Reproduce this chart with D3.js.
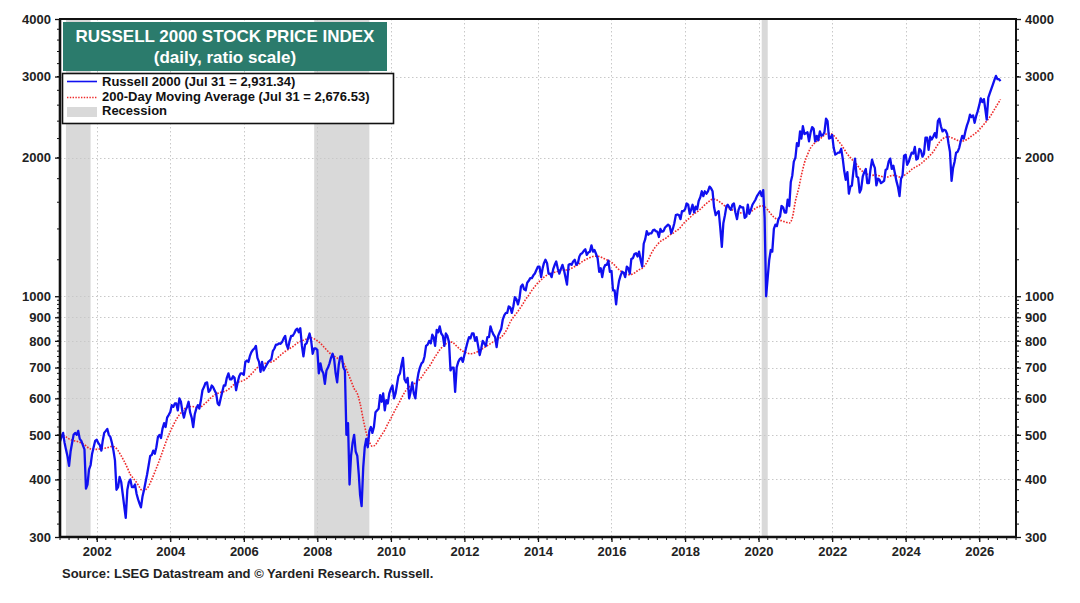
<!DOCTYPE html>
<html>
<head>
<meta charset="utf-8">
<script src="https://cdn.jsdelivr.net/npm/d3@7"></script>
<style>
  body { margin: 0; background: #fff; }
  svg { font-family: "Liberation Sans", Arial, sans-serif; font-weight: bold; }
</style>
</head>
<body>
<svg id="chart" width="1080" height="603"></svg>
<script>
const r2kStart = '2001-01-01';
const r2k = [
  484, 495, 505, 480, 465, 450, 428, 460, 480, 500, 505, 500, 510, 490, 485, 475, 465, 382, 390, 420, 430, 455, 470, 485, // 2001
  488, 480, 475, 462, 485, 505, 510, 515, 500, 495, 480, 462, 440, 380, 385, 405, 395, 372, 350, 330, 380, 395, 400, 385, // 2002
  385, 390, 372, 362, 355, 348, 368, 380, 395, 410, 430, 450, 452, 462, 455, 470, 495, 500, 492, 515, 530, 520, 545, 552, // 2003
  560, 580, 575, 585, 585, 565, 600, 590, 562, 545, 565, 575, 590, 560, 545, 520, 555, 570, 580, 570, 595, 625, 635, 648, // 2004
  650, 620, 625, 640, 635, 625, 615, 585, 580, 600, 620, 640, 640, 665, 680, 660, 660, 670, 665, 625, 650, 670, 680, 680, // 2005
  675, 720, 725, 720, 740, 755, 765, 770, 780, 735, 720, 685, 720, 690, 700, 710, 720, 725, 730, 760, 770, 785, 785, 790, // 2006
  788, 795, 810, 820, 785, 770, 800, 820, 820, 830, 845, 850, 835, 852, 780, 740, 785, 790, 810, 830, 800, 750, 770, 770, // 2007
  765, 680, 715, 690, 680, 645, 690, 700, 715, 735, 750, 730, 680, 650, 710, 740, 740, 700, 690, 500, 530, 390, 450, 480, // 2008
  500, 460, 450, 410, 370, 350, 425, 470, 490, 470, 510, 520, 505, 520, 560, 565, 570, 610, 590, 615, 565, 595, 585, 615, // 2009
  630, 640, 600, 615, 640, 670, 680, 710, 735, 660, 650, 665, 600, 620, 650, 615, 600, 650, 680, 700, 715, 720, 740, 780, // 2010
  785, 800, 790, 825, 815, 780, 845, 835, 860, 830, 820, 780, 830, 820, 795, 690, 700, 700, 620, 700, 720, 730, 735, 720, // 2011
  745, 770, 795, 815, 810, 830, 830, 800, 815, 780, 745, 770, 800, 790, 780, 815, 815, 860, 840, 825, 815, 775, 820, 835, // 2012
  850, 890, 910, 920, 920, 950, 945, 920, 950, 995, 985, 960, 990, 1050, 1060, 1035, 1030, 1070, 1080, 1095, 1095, 1110, 1120, 1140, // 2013
  1160, 1160, 1100, 1150, 1180, 1200, 1180, 1120, 1120, 1100, 1145, 1170, 1190, 1150, 1120, 1145, 1170, 1140, 1100, 1060, 1170, 1175, 1170, 1190, // 2014
  1200, 1170, 1180, 1220, 1235, 1240, 1255, 1265, 1230, 1245, 1250, 1290, 1250, 1260, 1235, 1210, 1130, 1150, 1100, 1150, 1170, 1170, 1195, 1130, // 2015
  1135, 1030, 1030, 960, 1030, 1080, 1110, 1130, 1125, 1100, 1160, 1150, 1120, 1205, 1210, 1235, 1240, 1220, 1250, 1200, 1160, 1300, 1330, 1385, // 2016
  1360, 1370, 1370, 1390, 1395, 1385, 1380, 1345, 1400, 1380, 1385, 1410, 1420, 1430, 1420, 1370, 1400, 1440, 1500, 1505, 1500, 1470, 1530, 1530, // 2017
  1545, 1590, 1580, 1510, 1540, 1580, 1520, 1565, 1545, 1610, 1640, 1690, 1650, 1690, 1670, 1690, 1730, 1715, 1690, 1560, 1500, 1520, 1530, 1410, // 2018
  1280, 1440, 1500, 1570, 1580, 1560, 1540, 1580, 1590, 1520, 1470, 1540, 1570, 1560, 1560, 1480, 1490, 1580, 1510, 1540, 1580, 1600, 1620, 1650, // 2019
  1670, 1690, 1650, 1700, 1480, 1000, 1100, 1200, 1260, 1250, 1400, 1430, 1420, 1470, 1490, 1570, 1560, 1520, 1520, 1620, 1570, 1770, 1830, 1960, // 2020
  2000, 2150, 2120, 2280, 2200, 2340, 2250, 2260, 2270, 2170, 2270, 2330, 2310, 2170, 2230, 2180, 2280, 2230, 2240, 2270, 2430, 2400, 2200, 2210, // 2021
  2240, 2100, 2030, 2040, 2050, 2050, 2090, 1990, 1870, 1790, 1860, 1670, 1730, 1740, 1880, 1990, 1820, 1810, 1680, 1710, 1820, 1860, 1890, 1760, // 2022
  1760, 1880, 1980, 1930, 1900, 1740, 1800, 1790, 1760, 1770, 1780, 1880, 1890, 1960, 1990, 1890, 1920, 1850, 1780, 1730, 1650, 1800, 1830, 2020, // 2023
  2030, 1930, 1960, 2010, 2050, 2040, 2110, 1980, 1990, 2090, 2070, 2010, 2040, 2210, 2210, 2080, 2220, 2190, 2220, 2260, 2210, 2400, 2430, 2340, // 2024
  2280, 2300, 2290, 2250, 2150, 2060, 1780, 1900, 1960, 2050, 2060, 2100, 2170, 2230, 2200, 2280, 2350, 2400, 2480, 2450, 2470, 2380, 2460, 2520, // 2025
  2600, 2690, 2640, 2680, 2560, 2420, 2700, 2760, 2820, 2880, 2950, 3010, 2960, 2960                                                            // 2026
];

// 200-day moving average, one reading per month, from Jan 2001
const maStart = '2001-01-01';
const ma200 = [
  500, 498, 495, 490, 487, 485, 483, 480, 476, 470, 466, 465,        // 2001
  465, 466, 467, 468, 470, 472, 470, 462, 450, 438, 424, 410,        // 2002
  402, 394, 385, 378, 380, 387, 400, 415, 432, 450, 470, 490,        // 2003
  508, 525, 540, 553, 563, 572, 575, 576, 575, 572, 575, 582,        // 2004
  590, 600, 607, 613, 617, 620, 622, 628, 636, 645, 650, 653,        // 2005
  657, 663, 672, 683, 695, 705, 710, 715, 718, 720, 725, 735,        // 2006
  745, 755, 762, 770, 777, 787, 795, 800, 805, 810, 812, 808,        // 2007
  800, 790, 778, 765, 753, 745, 738, 730, 722, 708, 680, 655,        // 2008
  630, 615, 585, 540, 505, 482, 472, 476, 488, 500, 512, 528,        // 2009
  543, 560, 575, 592, 610, 625, 635, 643, 648, 655, 667, 682,        // 2010
  697, 712, 730, 748, 765, 778, 788, 795, 795, 785, 773, 763,        // 2011
  757, 752, 750, 752, 756, 762, 770, 778, 785, 793, 800, 808,        // 2012
  815, 830, 850, 880, 900, 918, 938, 960, 985, 1005, 1030, 1050,     // 2013
  1070, 1085, 1100, 1112, 1120, 1125, 1130, 1135, 1140, 1140, 1142, 1150, // 2014
  1160, 1170, 1182, 1195, 1205, 1213, 1220, 1222, 1220, 1212, 1203, 1195, // 2015
  1185, 1168, 1150, 1135, 1122, 1115, 1113, 1118, 1130, 1142, 1150, 1170, // 2016
  1200, 1240, 1270, 1295, 1315, 1328, 1340, 1358, 1370, 1385, 1400, 1425, // 2017
  1450, 1470, 1490, 1510, 1525, 1545, 1568, 1590, 1610, 1625, 1622, 1608, // 2018
  1590, 1570, 1555, 1545, 1535, 1525, 1518, 1515, 1515, 1520, 1535, 1552, // 2019
  1565, 1572, 1565, 1540, 1510, 1485, 1470, 1462, 1455, 1448, 1442, 1480, // 2020
  1610, 1710, 1830, 1950, 2030, 2100, 2140, 2170, 2195, 2225, 2250, 2258, // 2021
  2245, 2215, 2175, 2135, 2085, 2035, 2000, 1965, 1935, 1895, 1865, 1848, // 2022
  1835, 1830, 1835, 1830, 1822, 1815, 1815, 1825, 1830, 1825, 1815, 1818, // 2023
  1840, 1860, 1885, 1905, 1920, 1940, 1965, 1995, 2025, 2060, 2110, 2160, // 2024
  2195, 2215, 2220, 2210, 2195, 2180, 2170, 2175, 2190, 2215, 2240, 2265, // 2025
  2300, 2340, 2380, 2425, 2480, 2545, 2610                                // 2026
];

// last readings (legend values)
const lastDate = '2026-07-31';
const lastR2k = 2931.34;
const lastMA = 2676.53;

const recessions = [
  ['2001-03-01', '2001-11-01'],
  ['2007-12-01', '2009-06-01'],
  ['2020-02-01', '2020-04-01']
];

const yTickValues = [300, 400, 500, 600, 700, 800, 900, 1000, 2000, 3000, 4000];
const yGridValues = [400, 500, 600, 700, 800, 900, 1000, 2000, 3000];
const xLabelYears = [2002, 2004, 2006, 2008, 2010, 2012, 2014, 2016, 2018, 2020, 2022, 2024, 2026];

const titleLines = ['RUSSELL 2000 STOCK PRICE INDEX', '(daily, ratio scale)'];
const sourceText = 'Source: LSEG Datastream and \u00A9 Yardeni Research. Russell.';

// ---------------------------------------------------------------
const fmtComma = d3.format(',.2f');
const parse = d3.utcParse('%Y-%m-%d');

const margin = {left: 60, right: 1016, top: 19, bottom: 537};

const svg = d3.select('#chart');

const x = d3.scaleUtc()
    .domain([parse('2001-01-01'), parse('2027-01-01')])
    .range([margin.left, margin.right]);

const y = d3.scaleLog()
    .domain([300, 4000])
    .range([margin.bottom, margin.top]);

// build dated points
const r2kData = r2k.map((v, i) => {
  const d = d3.utcMonth.offset(parse(r2kStart), Math.floor(i / 2));
  return {date: i % 2 ? d3.utcDay.offset(d, 15) : d, value: v};
});
r2kData.push({date: parse(lastDate), value: lastR2k});

const maData = ma200.map((v, i) => ({date: d3.utcMonth.offset(parse(maStart), i), value: v}));
maData.push({date: parse(lastDate), value: lastMA});

// recession bands
svg.append('g')
    .selectAll('rect')
    .data(recessions)
    .join('rect')
    .attr('x', (d) => x(parse(d[0])))
    .attr('width', (d) => x(parse(d[1])) - x(parse(d[0])))
    .attr('y', margin.top)
    .attr('height', margin.bottom - margin.top)
    .attr('fill', '#d9d9d9');

// grid
const grid = svg.append('g').attr('stroke', '#c8c8c8').attr('stroke-width', 1).attr('stroke-dasharray', '1.5,2.5');
grid.selectAll('line.h')
    .data(yGridValues)
    .join('line')
    .attr('class', 'h')
    .attr('x1', margin.left).attr('x2', margin.right)
    .attr('y1', (d) => Math.round(y(d)) + 0.5).attr('y2', (d) => Math.round(y(d)) + 0.5);
grid.selectAll('line.v')
    .data(xLabelYears)
    .join('line')
    .attr('class', 'v')
    .attr('x1', (d) => Math.round(x(Date.UTC(d, 0, 1))) + 0.5)
    .attr('x2', (d) => Math.round(x(Date.UTC(d, 0, 1))) + 0.5)
    .attr('y1', margin.top).attr('y2', margin.bottom);

// moving average (dotted red)
svg.append('path')
    .datum(maData)
    .attr('fill', 'none')
    .attr('stroke', '#ee2b2b')
    .attr('stroke-width', 1.6)
    .attr('stroke-dasharray', '1.6,1.4')
    .attr('d', d3.line().x((d) => x(d.date)).y((d) => y(d.value)).curve(d3.curveMonotoneX));

// index line
svg.append('path')
    .datum(r2kData)
    .attr('fill', 'none')
    .attr('stroke', '#1010f0')
    .attr('stroke-width', 2.3)
    .attr('stroke-linejoin', 'round')
    .attr('d', d3.line().x((d) => x(d.date)).y((d) => y(d.value)));

// axes
const yFmt = d3.format('d');
const minorY = d3.range(320, 1000, 20).concat(d3.range(1200, 4000, 200));

const leftAxis = svg.append('g')
    .attr('transform', `translate(${margin.left},0)`)
    .call(d3.axisLeft(y).tickValues(yTickValues).tickFormat(yFmt).tickSize(5).tickPadding(4));
const rightAxis = svg.append('g')
    .attr('transform', `translate(${margin.right},0)`)
    .call(d3.axisRight(y).tickValues(yTickValues).tickFormat(yFmt).tickSize(5).tickPadding(4));
const bottomAxis = svg.append('g')
    .attr('transform', `translate(0,${margin.bottom})`)
    .call(d3.axisBottom(x)
        .tickValues(xLabelYears.map((yr) => new Date(Date.UTC(yr, 0, 1))))
        .tickFormat(d3.utcFormat('%Y'))
        .tickSize(5).tickPadding(5));

[leftAxis, rightAxis, bottomAxis].forEach((g) => {
  g.select('.domain').remove();
  g.selectAll('.tick line').attr('stroke', '#111').attr('stroke-width', 1.3);
  g.selectAll('.tick text')
      .attr('fill', '#222')
      .style('font-size', '13px')
      .style('font-weight', 'bold')
      .style('font-family', '"Liberation Sans", Arial, sans-serif');
});

// minor ticks
const minor = svg.append('g').attr('stroke', '#111').attr('stroke-width', 1);
minor.selectAll('line.ml')
    .data(minorY)
    .join('line')
    .attr('class', 'ml')
    .attr('x1', margin.left - 3).attr('x2', margin.left)
    .attr('y1', (d) => y(d)).attr('y2', (d) => y(d));
minor.selectAll('line.mr')
    .data(minorY)
    .join('line')
    .attr('class', 'mr')
    .attr('x1', margin.right).attr('x2', margin.right + 3)
    .attr('y1', (d) => y(d)).attr('y2', (d) => y(d));
minor.selectAll('line.mb')
    .data(d3.utcMonth.every(3).range(parse('2001-01-01'), parse('2027-01-02')))
    .join('line')
    .attr('class', 'mb')
    .attr('x1', (d) => x(d)).attr('x2', (d) => x(d))
    .attr('y1', margin.bottom).attr('y2', margin.bottom + 3);

// frame
svg.append('rect')
    .attr('x', margin.left).attr('y', margin.top)
    .attr('width', margin.right - margin.left)
    .attr('height', margin.bottom - margin.top)
    .attr('fill', 'none')
    .attr('stroke', '#111')
    .attr('stroke-width', 2);
svg.append('line')
    .attr('x1', margin.left).attr('x2', margin.left)
    .attr('y1', margin.top).attr('y2', margin.bottom)
    .attr('stroke', '#111').attr('stroke-width', 2.6);
svg.append('line')
    .attr('x1', margin.left).attr('x2', margin.right)
    .attr('y1', margin.bottom).attr('y2', margin.bottom)
    .attr('stroke', '#111').attr('stroke-width', 2.6);

// title box
const title = svg.append('g');
title.append('rect')
    .attr('x', 63).attr('y', 22).attr('width', 324).attr('height', 49)
    .attr('fill', '#2b7b6c');
title.selectAll('text')
    .data(titleLines)
    .join('text')
    .attr('x', 225)
    .attr('y', (d, i) => i ? 63 : 41.5)
    .attr('text-anchor', 'middle')
    .attr('fill', '#fff')
    .style('font-size', '17px')
    .text((d) => d);

// legend
const legend = svg.append('g');
legend.append('rect')
    .attr('x', 62.5).attr('y', 73.5).attr('width', 331).attr('height', 50)
    .attr('fill', '#fff').attr('stroke', '#111').attr('stroke-width', 1.6);
legend.append('line')
    .attr('x1', 67).attr('x2', 97).attr('y1', 81.5).attr('y2', 81.5)
    .attr('stroke', '#1010f0').attr('stroke-width', 1.6);
legend.append('line')
    .attr('x1', 67).attr('x2', 97).attr('y1', 97.5).attr('y2', 97.5)
    .attr('stroke', '#ee2b2b').attr('stroke-width', 1.6).attr('stroke-dasharray', '1.4,1.4');
legend.append('rect')
    .attr('x', 67).attr('y', 107).attr('width', 30).attr('height', 10)
    .attr('fill', '#d9d9d9');
const legendLabels = [
  `Russell 2000 (Jul 31 = ${fmtComma(lastR2k)})`,
  `200-Day Moving Average (Jul 31 = ${fmtComma(lastMA)})`,
  'Recession'
];
legend.selectAll('text')
    .data(legendLabels)
    .join('text')
    .attr('x', 102)
    .attr('y', (d, i) => 86 + i * 14.6)
    .attr('fill', '#111')
    .style('font-size', '13px')
    .text((d) => d);

// source
svg.append('text')
    .attr('x', 62).attr('y', 578)
    .attr('fill', '#222')
    .style('font-size', '13px')
    .text(sourceText);
</script>
</body>
</html>
